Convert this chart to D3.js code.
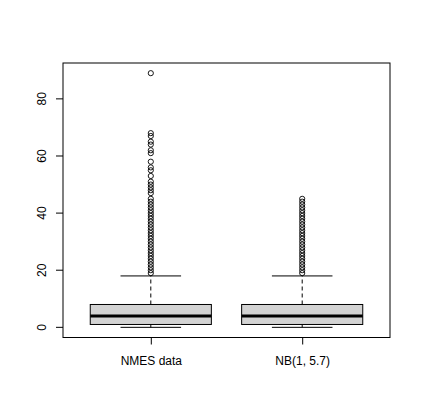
<!DOCTYPE html>
<html>
<head>
<meta charset="utf-8">
<script src="https://cdn.jsdelivr.net/npm/d3@7"></script>
<style>
  body { margin: 0; background: #fff; }
  svg { display: block; font-family: "Liberation Sans", Arial, sans-serif; }
</style>
</head>
<body>
<svg width="423" height="417"></svg>
<script>
// box statistics
var categories = ["NMES data", "NB(1, 5.7)"];
var lowerWhisker = [0, 0];
var q1 = [1, 1];
var medians = [4, 4];
var q3 = [8, 8];
var upperWhisker = [18, 18];

var outliersNMES = [89, 68, 67, 65, 64, 62, 61, 58, 56, 55, 53, 51, 50, 49, 48, 47, 45,
  44, 43, 42, 41, 40, 39, 38, 37, 36, 35, 34, 33, 32, 31, 30, 29, 28, 27, 26, 25, 24, 23, 22, 21, 20, 19];
var outliersNB = [45, 44, 43, 42, 41, 40, 39, 38, 37, 36, 35, 34, 33, 32, 31, 30, 29, 28, 27, 26, 25, 24, 23, 22, 21, 20, 19];
var outliers = [outliersNMES, outliersNB];

var yTicks = [0, 20, 40, 60, 80];

var svg = d3.select("svg"),
    plot = {left: 63, right: 390, top: 63, bottom: 337.5};

var x = d3.scaleLinear().domain([0.42, 2.58]).range([plot.left, plot.right]);
var y = d3.scaleLinear().domain([-3.56, 92.56]).range([plot.bottom, plot.top]);

var boxes = categories.map(function(c, i) {
  return {name: c, pos: i + 1, lo: lowerWhisker[i], q1: q1[i], med: medians[i], q3: q3[i], hi: upperWhisker[i], out: outliers[i]};
});

var halfBox = (x(1.4) - x(1)), halfCap = halfBox / 2;

var g = svg.selectAll(".bx")
  .data(boxes)
  .enter().append("g")
    .attr("class", "bx");

// dashed whiskers
g.append("line")
    .attr("x1", function(d) { return x(d.pos); })
    .attr("x2", function(d) { return x(d.pos); })
    .attr("y1", function(d) { return y(d.q3); })
    .attr("y2", function(d) { return y(d.hi); })
    .attr("stroke", "#000").attr("stroke-dasharray", "4,3");
g.append("line")
    .attr("x1", function(d) { return x(d.pos); })
    .attr("x2", function(d) { return x(d.pos); })
    .attr("y1", function(d) { return y(d.q1); })
    .attr("y2", function(d) { return y(d.lo); })
    .attr("stroke", "#000").attr("stroke-dasharray", "4,3");

// caps
["hi", "lo"].forEach(function(k) {
  g.append("line")
      .attr("x1", function(d) { return x(d.pos) - halfCap; })
      .attr("x2", function(d) { return x(d.pos) + halfCap; })
      .attr("y1", function(d) { return y(d[k]); })
      .attr("y2", function(d) { return y(d[k]); })
      .attr("stroke", "#000");
});

g.append("rect")
    .attr("x", function(d) { return x(d.pos) - halfBox; })
    .attr("width", halfBox * 2)
    .attr("y", function(d) { return y(d.q3); })
    .attr("height", function(d) { return y(d.q1) - y(d.q3); })
    .attr("fill", "#d3d3d3")
    .attr("stroke", "#000");

g.append("line")
    .attr("x1", function(d) { return x(d.pos) - halfBox; })
    .attr("x2", function(d) { return x(d.pos) + halfBox; })
    .attr("y1", function(d) { return y(d.med); })
    .attr("y2", function(d) { return y(d.med); })
    .attr("stroke", "#000").attr("stroke-width", 3);

g.selectAll("circle")
  .data(function(d) { return d.out.map(function(v) { return {pos: d.pos, v: v}; }); })
  .enter().append("circle")
    .attr("cx", function(d) { return x(d.pos); })
    .attr("cy", function(d) { return y(d.v); })
    .attr("r", 2.6)
    .attr("fill", "none")
    .attr("stroke", "#000")
    .attr("stroke-width", 0.9);

// frame
svg.append("rect")
    .attr("x", plot.left).attr("y", plot.top)
    .attr("width", plot.right - plot.left).attr("height", plot.bottom - plot.top)
    .attr("fill", "none").attr("stroke", "#000");

var yAxis = svg.append("g")
    .attr("transform", "translate(" + plot.left + ",0)")
    .call(d3.axisLeft(y).tickValues(yTicks).tickSize(7).tickPadding(0));
yAxis.select(".domain").remove();
yAxis.selectAll("text")
    .attr("x", 0).attr("y", 0).attr("dy", 0)
    .attr("transform", function(d) { return "translate(" + (plot.left - 17 - plot.left) + "," + y(d) + ") rotate(-90)"; })
    .attr("text-anchor", "middle")
    .style("font-size", "12px")
    .attr("fill", "#000");
yAxis.selectAll(".tick").attr("transform", "translate(0,0)");
yAxis.selectAll(".tick line")
    .attr("y1", function(d) { return y(d); })
    .attr("y2", function(d) { return y(d); });

var xAxis = svg.append("g")
    .attr("transform", "translate(0," + plot.bottom + ")")
    .call(d3.axisBottom(x).tickValues([1, 2]).tickSize(7).tickPadding(12)
      .tickFormat(function(d) { return categories[d - 1]; }));
xAxis.select(".domain").remove();
xAxis.selectAll("text")
    .style("font-size", "12px")
    .attr("fill", "#000");
</script>
</body>
</html>
